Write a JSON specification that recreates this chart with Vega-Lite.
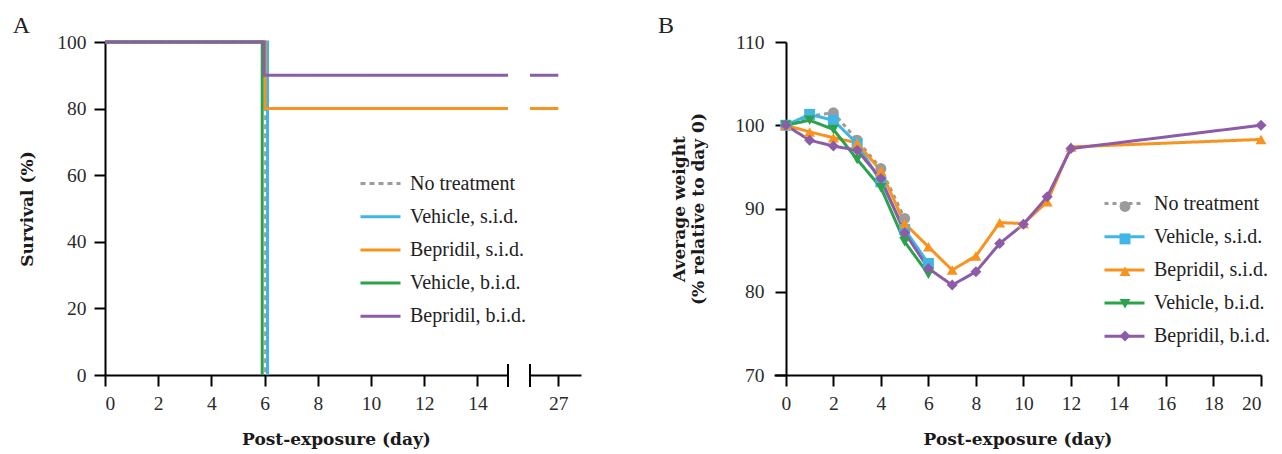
{
  "$schema": "https://vega.github.io/schema/vega-lite/v6.json",
  "background": "white",
  "padding": {"left": 12, "top": 14, "right": 5, "bottom": 5},
  "config": {
    "view": {"stroke": null},
    "axis": {
      "grid": false,
      "labelFont": "Liberation Serif", "labelFontSize": 19.5, "labelColor": "#2a2a2a",
      "titleFont": "DejaVu Serif", "titleFontSize": 17, "titleFontWeight": "bold", "titleColor": "#1a1a1a",
      "domainColor": "#000", "domainWidth": 2, "tickColor": "#000", "tickWidth": 2, "tickSize": 11, "labelPadding": 7
    },
    "legend": {
      "labelFont": "Liberation Serif", "labelFontSize": 20, "labelColor": "#222",
      "symbolStrokeWidth": 3, "labelOffset": 8, "padding": 0
    },
    "title": {"font": "Liberation Serif", "fontSize": 24, "fontWeight": "normal", "color": "#222"}
  },
  "datasets": {
    "surv": [
      {"group": "No treatment", "day": 0, "survival": 100},
      {"group": "No treatment", "day": 6.04, "survival": 0},
      {"group": "Vehicle, s.i.d.", "day": 0, "survival": 100},
      {"group": "Vehicle, s.i.d.", "day": 6.11, "survival": 0},
      {"group": "Bepridil, s.i.d.", "day": 0, "survival": 100},
      {"group": "Bepridil, s.i.d.", "day": 6.02, "survival": 80},
      {"group": "Bepridil, s.i.d.", "day": 27, "survival": 80},
      {"group": "Vehicle, b.i.d.", "day": 0, "survival": 100},
      {"group": "Vehicle, b.i.d.", "day": 5.91, "survival": 0},
      {"group": "Bepridil, b.i.d.", "day": 0, "survival": 100},
      {"group": "Bepridil, b.i.d.", "day": 5.98, "survival": 90},
      {"group": "Bepridil, b.i.d.", "day": 27, "survival": 90}
    ],
    "weight": [
      {"group": "No treatment", "day": 0, "weight": 100},
      {"group": "No treatment", "day": 1, "weight": 101.1},
      {"group": "No treatment", "day": 2, "weight": 101.5},
      {"group": "No treatment", "day": 3, "weight": 98.2},
      {"group": "No treatment", "day": 4, "weight": 94.8},
      {"group": "No treatment", "day": 5, "weight": 88.8},
      {"group": "Vehicle, s.i.d.", "day": 0, "weight": 100},
      {"group": "Vehicle, s.i.d.", "day": 1, "weight": 101.3},
      {"group": "Vehicle, s.i.d.", "day": 2, "weight": 100.6},
      {"group": "Vehicle, s.i.d.", "day": 3, "weight": 97.8},
      {"group": "Vehicle, s.i.d.", "day": 4, "weight": 93.2},
      {"group": "Vehicle, s.i.d.", "day": 5, "weight": 87.5},
      {"group": "Vehicle, s.i.d.", "day": 6, "weight": 83.4},
      {"group": "Bepridil, s.i.d.", "day": 0, "weight": 100},
      {"group": "Bepridil, s.i.d.", "day": 1, "weight": 99.2},
      {"group": "Bepridil, s.i.d.", "day": 2, "weight": 98.5},
      {"group": "Bepridil, s.i.d.", "day": 3, "weight": 97.9},
      {"group": "Bepridil, s.i.d.", "day": 4, "weight": 94.5},
      {"group": "Bepridil, s.i.d.", "day": 5, "weight": 88.2},
      {"group": "Bepridil, s.i.d.", "day": 6, "weight": 85.4},
      {"group": "Bepridil, s.i.d.", "day": 7, "weight": 82.6},
      {"group": "Bepridil, s.i.d.", "day": 8, "weight": 84.3},
      {"group": "Bepridil, s.i.d.", "day": 9, "weight": 88.3},
      {"group": "Bepridil, s.i.d.", "day": 10, "weight": 88.2},
      {"group": "Bepridil, s.i.d.", "day": 11, "weight": 90.8},
      {"group": "Bepridil, s.i.d.", "day": 12, "weight": 97.4},
      {"group": "Bepridil, s.i.d.", "day": 20, "weight": 98.3},
      {"group": "Vehicle, b.i.d.", "day": 0, "weight": 100},
      {"group": "Vehicle, b.i.d.", "day": 1, "weight": 100.6},
      {"group": "Vehicle, b.i.d.", "day": 2, "weight": 99.5},
      {"group": "Vehicle, b.i.d.", "day": 3, "weight": 95.9},
      {"group": "Vehicle, b.i.d.", "day": 4, "weight": 92.5},
      {"group": "Vehicle, b.i.d.", "day": 5, "weight": 86.0},
      {"group": "Vehicle, b.i.d.", "day": 6, "weight": 82.1},
      {"group": "Bepridil, b.i.d.", "day": 0, "weight": 100},
      {"group": "Bepridil, b.i.d.", "day": 1, "weight": 98.2},
      {"group": "Bepridil, b.i.d.", "day": 2, "weight": 97.5},
      {"group": "Bepridil, b.i.d.", "day": 3, "weight": 97.0},
      {"group": "Bepridil, b.i.d.", "day": 4, "weight": 93.6},
      {"group": "Bepridil, b.i.d.", "day": 5, "weight": 87.1},
      {"group": "Bepridil, b.i.d.", "day": 6, "weight": 82.8},
      {"group": "Bepridil, b.i.d.", "day": 7, "weight": 80.8},
      {"group": "Bepridil, b.i.d.", "day": 8, "weight": 82.4},
      {"group": "Bepridil, b.i.d.", "day": 9, "weight": 85.8},
      {"group": "Bepridil, b.i.d.", "day": 10, "weight": 88.1},
      {"group": "Bepridil, b.i.d.", "day": 11, "weight": 91.4},
      {"group": "Bepridil, b.i.d.", "day": 12, "weight": 97.2},
      {"group": "Bepridil, b.i.d.", "day": 20, "weight": 100.0}
    ]
  },
  "spacing": 77,
  "resolve": {
    "scale": {"color": "independent", "strokeDash": "independent", "shape": "independent"},
    "legend": {"color": "independent", "strokeDash": "independent", "shape": "independent"}
  },
  "hconcat": [
    {
      "title": {"text": "A", "anchor": "start", "frame": "bounds", "dx": -6, "offset": -6},
      "spacing": 2,
      "resolve": {
        "scale": {"color": "independent", "strokeDash": "independent"},
        "legend": {"color": "independent", "strokeDash": "independent"}
      },
      "hconcat": [
        {
          "width": 403, "height": 333,
          "layer": [
            {
              "data": {"name": "surv"},
              "mark": {"type": "line", "interpolate": "step-after", "strokeWidth": 3, "clip": false},
              "encoding": {
                "x": {"field": "day", "type": "quantitative",
                  "scale": {"domain": [0, 15.15], "nice": false, "clamp": true},
                  "axis": {"values": [0, 2, 4, 6, 8, 10, 12, 14], "title": "Post-exposure (day)", "titleX": 231, "labelPadding": 8.5, "titlePadding": 18.5}},
                "y": {"field": "survival", "type": "quantitative",
                  "scale": {"domain": [0, 100], "nice": false},
                  "axis": {"values": [0, 20, 40, 60, 80, 100], "title": "Survival (%)", "titlePadding": 20, "labelPadding": 8}},
                "color": {"field": "group", "type": "nominal",
                  "scale": {"domain": ["No treatment", "Vehicle, s.i.d.", "Bepridil, s.i.d.", "Vehicle, b.i.d.", "Bepridil, b.i.d."],
                            "range": ["#9b9b9b", "#41b6e6", "#f7931e", "#2ca24a", "#8c5ca8"]},
                  "legend": {"title": null, "orient": "none", "legendX": 254, "legendY": 120, "symbolType": "stroke", "symbolSize": 1600, "rowPadding": 1.2}},
                "strokeDash": {"field": "group", "type": "nominal",
                  "scale": {"domain": ["No treatment", "Vehicle, s.i.d.", "Bepridil, s.i.d.", "Vehicle, b.i.d.", "Bepridil, b.i.d."],
                            "range": [[5, 4], [1, 0], [1, 0], [1, 0], [1, 0]]},
                  "legend": {"title": null, "orient": "none", "legendX": 254, "legendY": 120, "symbolType": "stroke", "symbolSize": 1600, "rowPadding": 1.2}}
              }
            },
            {
              "data": {"values": [{}]},
              "mark": {"type": "rule", "strokeWidth": 2, "color": "#000", "clip": false},
              "encoding": {"x": {"datum": 15.15}, "y": {"datum": 3.3}, "y2": {"datum": -3.6}}
            }
          ]
        },
        {
          "width": 51, "height": 333,
          "layer": [
            {
              "data": {"name": "surv"},
              "mark": {"type": "line", "interpolate": "step-after", "strokeWidth": 3, "clip": true},
              "encoding": {
                "x": {"field": "day", "type": "quantitative",
                  "scale": {"domain": [25.94, 27.85], "nice": false},
                  "axis": {"values": [27], "title": null, "labelPadding": 8.5}},
                "y": {"field": "survival", "type": "quantitative",
                  "scale": {"domain": [0, 100], "nice": false}, "axis": null},
                "color": {"field": "group", "type": "nominal",
                  "scale": {"domain": ["No treatment", "Vehicle, s.i.d.", "Bepridil, s.i.d.", "Vehicle, b.i.d.", "Bepridil, b.i.d."],
                            "range": ["#9b9b9b", "#41b6e6", "#f7931e", "#2ca24a", "#8c5ca8"]},
                  "legend": null},
                "strokeDash": {"field": "group", "type": "nominal",
                  "scale": {"domain": ["No treatment", "Vehicle, s.i.d.", "Bepridil, s.i.d.", "Vehicle, b.i.d.", "Bepridil, b.i.d."],
                            "range": [[5, 4], [1, 0], [1, 0], [1, 0], [1, 0]]},
                  "legend": null}
              }
            },
            {
              "data": {"values": [{}]},
              "mark": {"type": "rule", "strokeWidth": 2, "color": "#000", "clip": false},
              "encoding": {"x": {"datum": 25.94}, "y": {"datum": 3.3}, "y2": {"datum": -3.6}}
            }
          ]
        }
      ]
    },
    {
      "title": {"text": "B", "anchor": "start", "frame": "group", "dx": -116, "offset": -6},
      "width": 487, "height": 333,
      "data": {"name": "weight"},
      "resolve": {
        "scale": {"color": "independent", "strokeDash": "independent", "shape": "independent"},
        "legend": {"color": "independent", "strokeDash": "independent", "shape": "independent"}
      },
      "layer": [
        {
          "mark": {"type": "line", "strokeWidth": 3},
          "encoding": {
            "x": {"field": "day", "type": "quantitative",
              "scale": {"domain": [-0.5, 20], "nice": false},
              "axis": {"values": [0, 2, 4, 6, 8, 10, 12, 14, 16, 18, 20], "title": "Post-exposure (day)", "labelPadding": 8.5, "titlePadding": 18.5}},
            "y": {"field": "weight", "type": "quantitative",
              "scale": {"domain": [70, 110], "nice": false, "zero": false},
              "axis": {"values": [70, 80, 90, 100, 110], "offset": -12, "title": ["Average weight", "(% relative to day 0)"], "titlePadding": 27, "titleLineHeight": 19, "labelPadding": 11}},
            "color": {"field": "group", "type": "nominal",
              "scale": {"domain": ["No treatment", "Vehicle, s.i.d.", "Bepridil, s.i.d.", "Vehicle, b.i.d.", "Bepridil, b.i.d."],
                        "range": ["#9b9b9b", "#41b6e6", "#f7931e", "#2ca24a", "#8c5ca8"]},
              "legend": {"title": null, "orient": "none", "legendX": 329, "legendY": 140, "symbolType": "stroke", "symbolSize": 1600, "labelOffset": 8, "rowPadding": 1.2}},
            "strokeDash": {"field": "group", "type": "nominal",
              "scale": {"domain": ["No treatment", "Vehicle, s.i.d.", "Bepridil, s.i.d.", "Vehicle, b.i.d.", "Bepridil, b.i.d."],
                        "range": [[4, 4], [1, 0], [1, 0], [1, 0], [1, 0]]},
              "legend": {"title": null, "orient": "none", "legendX": 329, "legendY": 140, "symbolType": "stroke", "symbolSize": 1600, "labelOffset": 8, "rowPadding": 1.2}}
          }
        },
        {
          "mark": {"type": "point", "filled": true, "size": 120, "opacity": 1},
          "encoding": {
            "x": {"field": "day", "type": "quantitative"},
            "y": {"field": "weight", "type": "quantitative"},
            "color": {"field": "group", "type": "nominal",
              "scale": {"domain": ["No treatment", "Vehicle, s.i.d.", "Bepridil, s.i.d.", "Vehicle, b.i.d.", "Bepridil, b.i.d."],
                        "range": ["#9b9b9b", "#41b6e6", "#f7931e", "#2ca24a", "#8c5ca8"]},
              "legend": {"title": null, "orient": "none", "legendX": 341, "legendY": 154.5, "labelExpr": "''", "symbolSize": 120, "labelOffset": 0, "rowPadding": 12.4}},
            "shape": {"field": "group", "type": "nominal",
              "scale": {"domain": ["No treatment", "Vehicle, s.i.d.", "Bepridil, s.i.d.", "Vehicle, b.i.d.", "Bepridil, b.i.d."],
                        "range": ["circle", "square", "triangle-up", "triangle-down", "diamond"]},
              "legend": {"title": null, "orient": "none", "legendX": 341, "legendY": 154.5, "labelExpr": "''", "symbolSize": 120, "labelOffset": 0, "rowPadding": 12.4}}
          }
        }
      ]
    }
  ]
}
